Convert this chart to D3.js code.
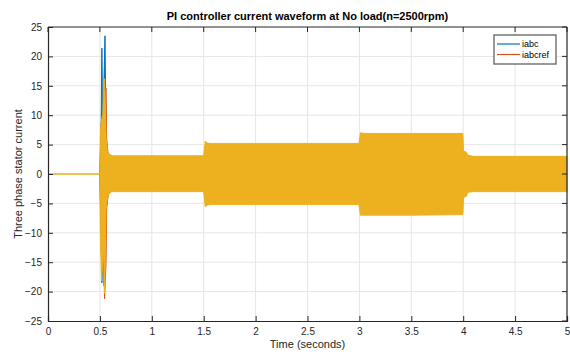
<!DOCTYPE html>
<html>
<head>
<meta charset="utf-8">
<script src="https://cdn.jsdelivr.net/npm/d3@7"></script>
<style>
  body { margin: 0; background: #fff; }
  svg { display: block; font-family: "Liberation Sans", Arial, sans-serif; }
</style>
</head>
<body>
<div id="chart"></div>
<script>
// Envelope of the dense three-phase waveform (upper / lower limits per time point)
const timeYellow  = [0, 0.50, 0.505, 0.515, 0.528, 0.535, 0.545, 0.552, 0.56, 0.575, 0.60, 0.62, 1.00, 1.50, 1.515, 1.53, 1.56, 2.00, 2.50, 2.995, 3.01, 3.05, 3.50, 3.997, 4.003, 4.03, 4.045, 4.10, 4.50, 5.00];
const upperYellow = [0, 0, 7, 9, 10, 16.2, 16.2, 12, 6, 3.6, 3.3, 3.1, 3.1, 3.1, 5.6, 5.3, 5.2, 5.2, 5.2, 5.2, 7.0, 6.9, 6.9, 6.9, 3.9, 3.7, 3.2, 3.0, 3.0, 3.0];
const lowerYellow = [0, 0, -10, -18.2, -15, -12, -20.3, -14, -6, -3.8, -3.1, -3.0, -3.0, -3.0, -5.6, -5.3, -5.2, -5.2, -5.2, -5.2, -7.0, -7.0, -7.0, -6.9, -4.0, -3.8, -3.1, -3.0, -3.0, -3.0];

const timeBlue  = [0.50, 0.512, 0.519, 0.525, 0.535, 0.541, 0.549, 0.556, 0.565, 0.58, 0.60];
const upperBlue = [0, 8, 21.4, 12, 14, 17, 23.5, 12, 4, 3.4, 3.0];
const lowerBlue = [0, -10, -18.5, -15, -13, -19, -14, -8, -4, -3.6, -3.0];

const timeOrange  = [0.50, 0.51, 0.52, 0.535, 0.545, 0.559, 0.565, 0.58, 0.60];
const upperOrange = [0, 8, 10, 10, 13, 14.6, 6, 3.4, 3.0];
const lowerOrange = [0, -11, -17, -13, -21.2, -15, -6, -3.6, -3.0];

const xTicks = [0, 0.5, 1, 1.5, 2, 2.5, 3, 3.5, 4, 4.5, 5];
const yTicks = [-25, -20, -15, -10, -5, 0, 5, 10, 15, 20, 25];

const legendNames  = ["iabc", "iabcref"];
const legendColors = ["#0072BD", "#D95319"];

const width = 570, height = 352;
const margin = { top: 27, right: 3, bottom: 31, left: 48 };
const innerWidth = width - margin.left - margin.right;
const innerHeight = height - margin.top - margin.bottom;

const svg = d3.select("#chart").append("svg")
    .attr("width", width)
    .attr("height", height);

const g = svg.append("g")
    .attr("transform", `translate(${margin.left},${margin.top})`);

const xScale = d3.scaleLinear().domain([0, 5]).range([0, innerWidth]);
const yScale = d3.scaleLinear().domain([-25, 25]).range([innerHeight, 0]);

// grid
g.append("g").selectAll("line").data(xTicks.slice(1, -1)).join("line")
    .attr("x1", d => xScale(d)).attr("x2", d => xScale(d))
    .attr("y1", 0).attr("y2", innerHeight)
    .attr("stroke", "#e6e6e6").attr("stroke-width", 1);
g.append("g").selectAll("line").data(yTicks.slice(1, -1)).join("line")
    .attr("y1", d => yScale(d)).attr("y2", d => yScale(d))
    .attr("x1", 0).attr("x2", innerWidth)
    .attr("stroke", "#e6e6e6").attr("stroke-width", 1);

// waveform envelopes
function drawBand(times, upper, lower, color) {
    const pts = times.map((t, i) => ({ t, hi: upper[i], lo: lower[i] }));
    const area = d3.area()
        .x(d => xScale(d.t))
        .y0(d => yScale(d.lo))
        .y1(d => yScale(d.hi));
    g.append("path").datum(pts)
        .attr("d", area)
        .attr("fill", color)
        .attr("stroke", color)
        .attr("stroke-width", 1);
}
drawBand(timeBlue, upperBlue, lowerBlue, "#0072BD");
drawBand(timeOrange, upperOrange, lowerOrange, "#D95319");
drawBand(timeYellow, upperYellow, lowerYellow, "#EDB120");

// axes with inward ticks (box style)
const tickColor = "#262626";
const xAxis = d3.axisBottom(xScale).tickValues(xTicks).tickSize(-5).tickPadding(7).tickFormat(d3.format("~g"));
const yAxis = d3.axisLeft(yScale).tickValues(yTicks).tickSize(-5).tickPadding(6).tickFormat(d3.format("~g"));

g.append("g").attr("transform", `translate(0,${innerHeight})`).call(xAxis);
g.append("g").call(yAxis);

// top and right box edges with inward ticks
g.append("line").attr("x1", 0).attr("x2", innerWidth).attr("y1", 0).attr("y2", 0)
    .attr("stroke", tickColor).attr("stroke-width", 1.2);
g.append("line").attr("x1", innerWidth).attr("x2", innerWidth).attr("y1", 0).attr("y2", innerHeight)
    .attr("stroke", tickColor).attr("stroke-width", 1.2);
g.append("g").selectAll("line").data(xTicks).join("line")
    .attr("x1", d => xScale(d)).attr("x2", d => xScale(d))
    .attr("y1", 0).attr("y2", 5).attr("stroke", tickColor);
g.append("g").selectAll("line").data(yTicks).join("line")
    .attr("y1", d => yScale(d)).attr("y2", d => yScale(d))
    .attr("x1", innerWidth - 5).attr("x2", innerWidth).attr("stroke", tickColor);

g.selectAll(".domain").attr("stroke", tickColor).attr("stroke-width", 1.2);
g.selectAll(".tick line").attr("stroke", tickColor);
g.selectAll(".tick text")
    .style("font-size", "10px")
    .style("fill", "#262626");

// title and labels
svg.append("text")
    .attr("x", margin.left + innerWidth / 2)
    .attr("y", 20)
    .attr("text-anchor", "middle")
    .style("font-size", "11px")
    .style("font-weight", "bold")
    .style("fill", "#000")
    .text("PI controller current waveform at No load(n=2500rpm)");

svg.append("text")
    .attr("x", margin.left + innerWidth / 2)
    .attr("y", 348)
    .attr("text-anchor", "middle")
    .style("font-size", "11px")
    .style("fill", "#262626")
    .text("Time (seconds)");

svg.append("text")
    .attr("transform", `translate(22,${margin.top + innerHeight / 2}) rotate(-90)`)
    .attr("text-anchor", "middle")
    .style("font-size", "11px")
    .style("fill", "#262626")
    .text("Three phase stator current");

// legend
const legend = svg.append("g").attr("transform", "translate(494,35)");
legend.append("rect")
    .attr("width", 62).attr("height", 29)
    .attr("fill", "#fff")
    .attr("stroke", "#555").attr("stroke-width", 1.2);
legendNames.forEach((name, i) => {
    const y = 9 + i * 10.5;
    legend.append("line")
        .attr("x1", 3).attr("x2", 26)
        .attr("y1", y).attr("y2", y)
        .attr("stroke", legendColors[i]).attr("stroke-width", 1.2);
    legend.append("text")
        .attr("x", 28).attr("y", y + 3)
        .style("font-size", "9px")
        .style("fill", "#000")
        .text(name);
});
</script>
</body>
</html>
